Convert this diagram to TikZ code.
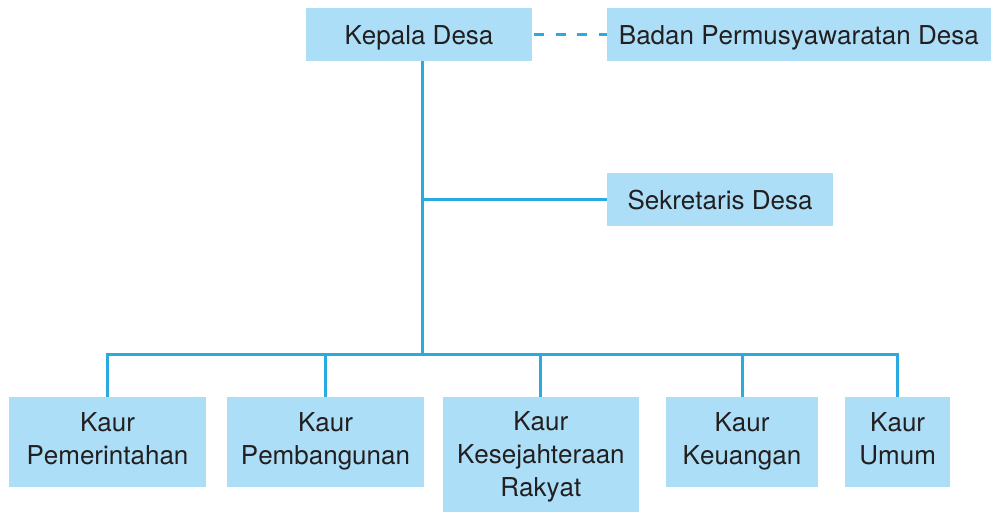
\documentclass[tikz,border=0pt]{standalone}
\usepackage{fontspec}
\setmainfont{TeX Gyre Heros}[Kerning=Off]
\definecolor{boxfill}{HTML}{ACDFF7}
\definecolor{linec}{HTML}{29ABE2}
\definecolor{txt}{HTML}{231F20}
\newcommand\capstrut{\rule{0pt}{19pt}}
\newcommand\dstrut[1]{\rule[-#1]{0pt}{#1}}
\begin{document}
\begin{tikzpicture}[x=1pt,y=-1pt,
  box/.style={fill=boxfill, draw=none, inner sep=0pt, align=center, text=txt,
    font=\fontsize{26}{32.7}\selectfont},
  conn/.style={draw=linec, line width=3pt},
  dashconn/.style={conn, dash pattern=on 10pt off 11.5pt, dash phase=-2pt}]
\useasboundingbox (0,0) rectangle (991,512);
\node[box, minimum width=226pt, minimum height=53pt] (kepala) at (419,34.5) {\capstrut\smash{Kepala Desa}};
\node[box, minimum width=384.3pt, minimum height=53pt] (badan) at (798.85,34.5) {\capstrut\smash{Badan Permusyawaratan Desa}};
\node[box, minimum width=226.6pt, minimum height=52.4pt] (sek) at (720,199.5) {\capstrut\smash{Sekretaris Desa}};
\node[box, minimum width=196.4pt, minimum height=90.3pt] (k1) at (107.5,441.85) {\capstrut Kaur\\\smash{Pemerintahan}\dstrut{6.7pt}};
\node[box, minimum width=196.4pt, minimum height=90.3pt] (k2) at (325.5,441.85) {\capstrut Kaur\\\smash{Pembangunan}\dstrut{6.7pt}};
\node[box, minimum width=196.3pt, minimum height=115.3pt] (k3) at (540.85,454.35) {\capstrut Kaur\\Kesejahteraan\\\smash{Rakyat}\dstrut{1pt}};
\node[box, minimum width=151.4pt, minimum height=90.3pt] (k4) at (742,441.85) {\capstrut Kaur\\\smash{Keuangan}\dstrut{6.7pt}};
\node[box, minimum width=105.3pt, minimum height=90.3pt] (k5) at (897.65,441.85) {\capstrut Kaur\\\smash{Umum}\dstrut{6.7pt}};
\coordinate (trunk) at (422.5,354.3);
\draw[dashconn] (kepala.east) -- (badan.west);
\draw[conn] (kepala.south -| trunk) -- (trunk);
\draw[conn] (trunk |- sek.west) -- (sek.west);
\draw[conn] (k1.north) -- (k1.north |- trunk) -- (k5.north |- trunk) -- (k5.north);
\draw[conn] (k2.north |- trunk) -- (k2.north);
\draw[conn] (k3.north |- trunk) -- (k3.north);
\draw[conn] (k4.north |- trunk) -- (k4.north);
\end{tikzpicture}
\end{document}
